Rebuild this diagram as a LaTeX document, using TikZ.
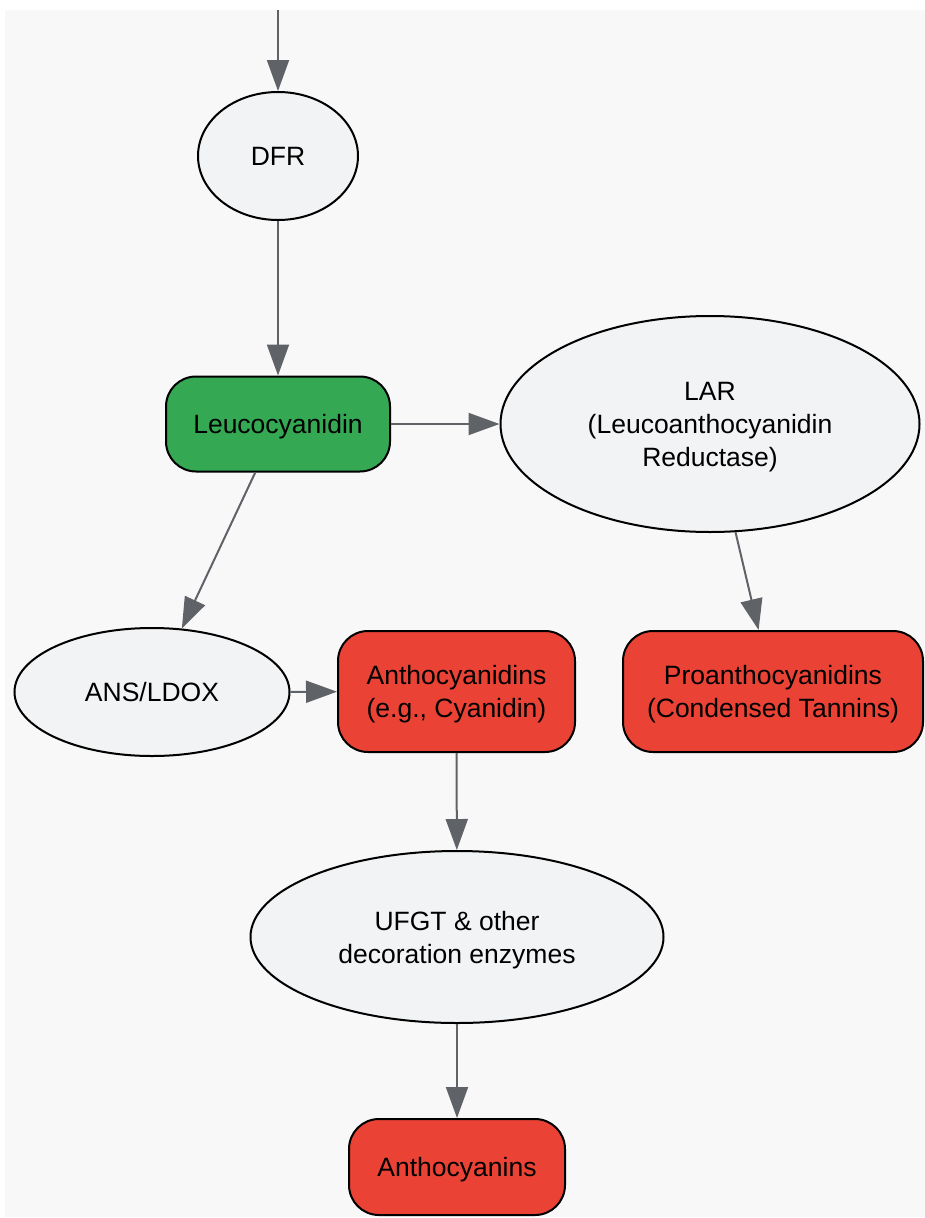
\documentclass[tikz,border=0pt]{standalone}
\usepackage{fontspec}
\setmainfont{Liberation Sans}
\usetikzlibrary{shapes.geometric,arrows.meta}
\definecolor{bgc}{HTML}{F8F8F8}
\definecolor{ellc}{HTML}{F1F3F4}
\definecolor{grn}{HTML}{34A853}
\definecolor{redc}{HTML}{EA4335}
\definecolor{arr}{HTML}{5F6368}
\begin{document}
\begin{tikzpicture}[x=1pt,y=-1pt,
  every node/.style={font=\fontsize{26.5}{33}\selectfont, text=black, align=center, inner sep=0pt, text depth=0pt},
  enz/.style={ellipse, draw=black, line width=2pt, fill=ellc},
  metab/.style={rectangle, rounded corners=30pt, draw=black, line width=2pt},
  conn/.style={draw=arr, line width=2pt, -{Triangle[length=31pt,width=22pt]}}]
\useasboundingbox (0,0) rectangle (925,1218);
\fill[bgc] (5,10) rectangle (925,1217);
\node[enz, minimum width=160pt, minimum height=128pt] (dfr) at (278,156) {DFR};
\node[metab, fill=grn, minimum width=224pt, minimum height=95pt] (leuco) at (278,424) {Leucocyanidin};
\node[enz, minimum width=419pt, minimum height=216pt] (lar) at (710,424) {LAR\\(Leucoanthocyanidin\\Reductase)};
\node[enz, minimum width=275pt, minimum height=128pt] (ans) at (152,692) {ANS/LDOX};
\node[metab, fill=redc, minimum width=237pt, minimum height=121pt] (anthd) at (456.5,691.5) {Anthocyanidins\\(e.g., Cyanidin)};
\node[metab, fill=redc, minimum width=300pt, minimum height=121pt] (proa) at (773,691.5) {Proanthocyanidins\\(Condensed Tannins)};
\node[enz, minimum width=413pt, minimum height=172pt] (ufgt) at (457,937) {UFGT \& other\\decoration enzymes};
\node[metab, fill=redc, minimum width=216pt, minimum height=96pt] (antho) at (457,1167) {Anthocyanins};
\coordinate (top) at (278,10);
\draw[conn] (top) -- (dfr);
\draw[conn] (dfr) -- (leuco);
\draw[conn] (leuco) -- (lar);
\draw[conn] (leuco) -- (ans);
\draw[conn] (ans) -- (anthd);
\draw[conn] (lar) -- (proa);
\draw[conn] (anthd) -- (ufgt);
\draw[conn] (ufgt) -- (antho);
\end{tikzpicture}
\end{document}
